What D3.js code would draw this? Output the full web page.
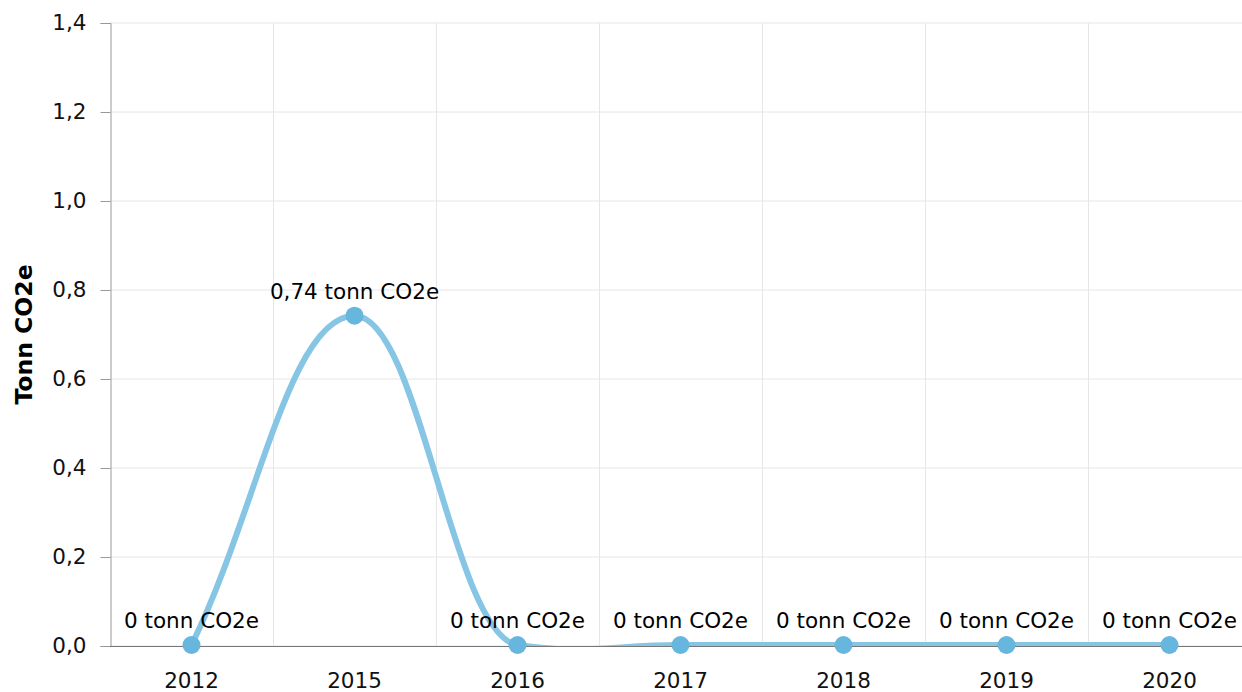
<!DOCTYPE html>
<html><head><meta charset="utf-8">
<script src="https://cdn.jsdelivr.net/npm/d3@7"></script>
<style>
html,body{margin:0;padding:0;background:#fff;}
svg{display:block;font-family:"DejaVu Sans",Verdana,sans-serif;}
</style></head>
<body>
<svg id="c" width="1242" height="692"></svg>
<script>
const categories = ["2012","2015","2016","2017","2018","2019","2020"];
const values = [0, 0.74, 0, 0, 0, 0, 0];
const yTicks = [0, 0.2, 0.4, 0.6, 0.8, 1.0, 1.2, 1.4];
const yTitle = "Tonn CO2e";
const unit = "tonn CO2e";

const svg = d3.select("#c");
const pL = 110, pR = 1251, pT = 23, pB = 646;
const x = d3.scaleBand().domain(categories).range([pL, pR]);
const y = d3.scaleLinear().domain([0, 1.4]).range([pB, pT]);
const fmt = v => d3.format(".1f")(v).replace(".", ",");
const cx = c => x(c) + x.bandwidth() / 2;

// horizontal grid
svg.append("g").selectAll("line").data(yTicks).join("line")
  .attr("x1", pL).attr("x2", pR)
  .attr("y1", d => y(d)).attr("y2", d => y(d))
  .attr("stroke", "#e6e6e6").attr("stroke-width", 1);
// vertical grid at band boundaries
svg.append("g").selectAll("line").data(categories.slice(1)).join("line")
  .attr("x1", d => x(d) + 0.5).attr("x2", d => x(d) + 0.5)
  .attr("y1", pT).attr("y2", pB)
  .attr("stroke", "#e6e6e6").attr("stroke-width", 1);

// y axis
const yAxis = d3.axisLeft(y).tickValues(yTicks).tickFormat(fmt).tickSize(10).tickPadding(14);
const gy = svg.append("g").attr("transform", `translate(${pL + 0.5},0)`).call(yAxis);
gy.select(".domain").attr("stroke", "#999");
gy.selectAll(".tick line").attr("stroke", "#999");
gy.selectAll(".tick text").attr("font-size", "21.5px").attr("fill", "#111")
  .attr("font-family", "DejaVu Sans, Verdana, sans-serif");

// y title
svg.append("text")
  .attr("transform", `translate(32,${(pT + pB) / 2}) rotate(-90)`)
  .attr("text-anchor", "middle")
  .attr("font-size", "23.5px").attr("font-weight", "bold").attr("fill", "#000")
  .text(yTitle);

// smoothed spline path (control points with limited overshoot)
function splinePath(pts) {
  const p = d3.path();
  const sm = 1.5, den = sm + 1, lim = 10;
  const n = pts.length;
  const conts = pts.map((pt, i) => {
    if (i === 0) {
      const nx = pts[1];
      return {rx: pt[0] + 0.4 * (nx[0] - pt[0]), ry: pt[1] + 0.4 * (nx[1] - pt[1])};
    }
    if (i === n - 1) {
      const pv = pts[i - 1];
      return {lx: pt[0] + 0.4 * (pv[0] - pt[0]), ly: pt[1] + 0.4 * (pv[1] - pt[1])};
    }
    const prev = pts[i - 1], next = pts[i + 1];
    let lx = (sm * pt[0] + prev[0]) / den, ly = (sm * pt[1] + prev[1]) / den;
    let rx = (sm * pt[0] + next[0]) / den, ry = (sm * pt[1] + next[1]) / den;
    const diff = ((ry - ly) * (rx - pt[0])) / (rx - lx) + pt[1] - ry;
    ly += diff; ry += diff;
    const hiL = Math.max(prev[1], pt[1]), loL = Math.min(prev[1], pt[1]);
    if (ly > hiL) { ly = hiL + Math.min(ly - hiL, lim); ry = 2 * pt[1] - ly; }
    else if (ly < loL) { ly = loL - Math.min(loL - ly, lim); ry = 2 * pt[1] - ly; }
    const hiR = Math.max(next[1], pt[1]), loR = Math.min(next[1], pt[1]);
    if (ry > hiR) { ry = hiR + Math.min(ry - hiR, lim); ly = 2 * pt[1] - ry; }
    else if (ry < loR) { ry = loR - Math.min(loR - ry, lim); ly = 2 * pt[1] - ry; }
    return {lx, ly, rx, ry};
  });
  pts.forEach((pt, i) => {
    if (i === 0) { p.moveTo(pt[0], pt[1]); return; }
    const a = conts[i - 1], b = conts[i];
    p.bezierCurveTo(a.rx, a.ry, b.lx, b.ly, pt[0], pt[1]);
  });
  return p.toString();
}

svg.append("defs").append("clipPath").attr("id", "plot")
  .append("rect").attr("x", pL).attr("y", pT).attr("width", pR - pL).attr("height", pB - pT);

const pts = categories.map((c, i) => [cx(c), y(values[i]) - 1]);
svg.append("path").attr("d", splinePath(pts)).attr("clip-path", "url(#plot)")
  .attr("fill", "none").attr("stroke", "#86c5e4").attr("stroke-width", 6)
  .attr("stroke-linejoin", "round").attr("stroke-linecap", "round");

// x axis
const xAxis = d3.axisBottom(x).tickSize(0).tickPadding(26);
const gx = svg.append("g").attr("transform", `translate(0,${pB + 0.5})`).call(xAxis);
gx.select(".domain").attr("stroke", "#777").attr("d", `M${pL},0H${pR}`);
gx.selectAll(".tick text").attr("font-size", "21.5px").attr("fill", "#111")
  .attr("font-family", "DejaVu Sans, Verdana, sans-serif");

// markers
svg.append("g").selectAll("circle").data(categories).join("circle")
  .attr("cx", d => cx(d)).attr("cy", (d, i) => y(values[i]) - 1).attr("r", 9)
  .attr("fill", "#67b6de");

// data labels
svg.append("g").selectAll("text").data(categories).join("text")
  .attr("x", d => cx(d)).attr("y", (d, i) => y(values[i]) - 18)
  .attr("text-anchor", "middle").attr("font-size", "21.5px").attr("fill", "#000")
  .text((d, i) => (values[i] === 0 ? "0" : String(values[i]).replace(".", ",")) + " " + unit);
</script>
</body></html>
